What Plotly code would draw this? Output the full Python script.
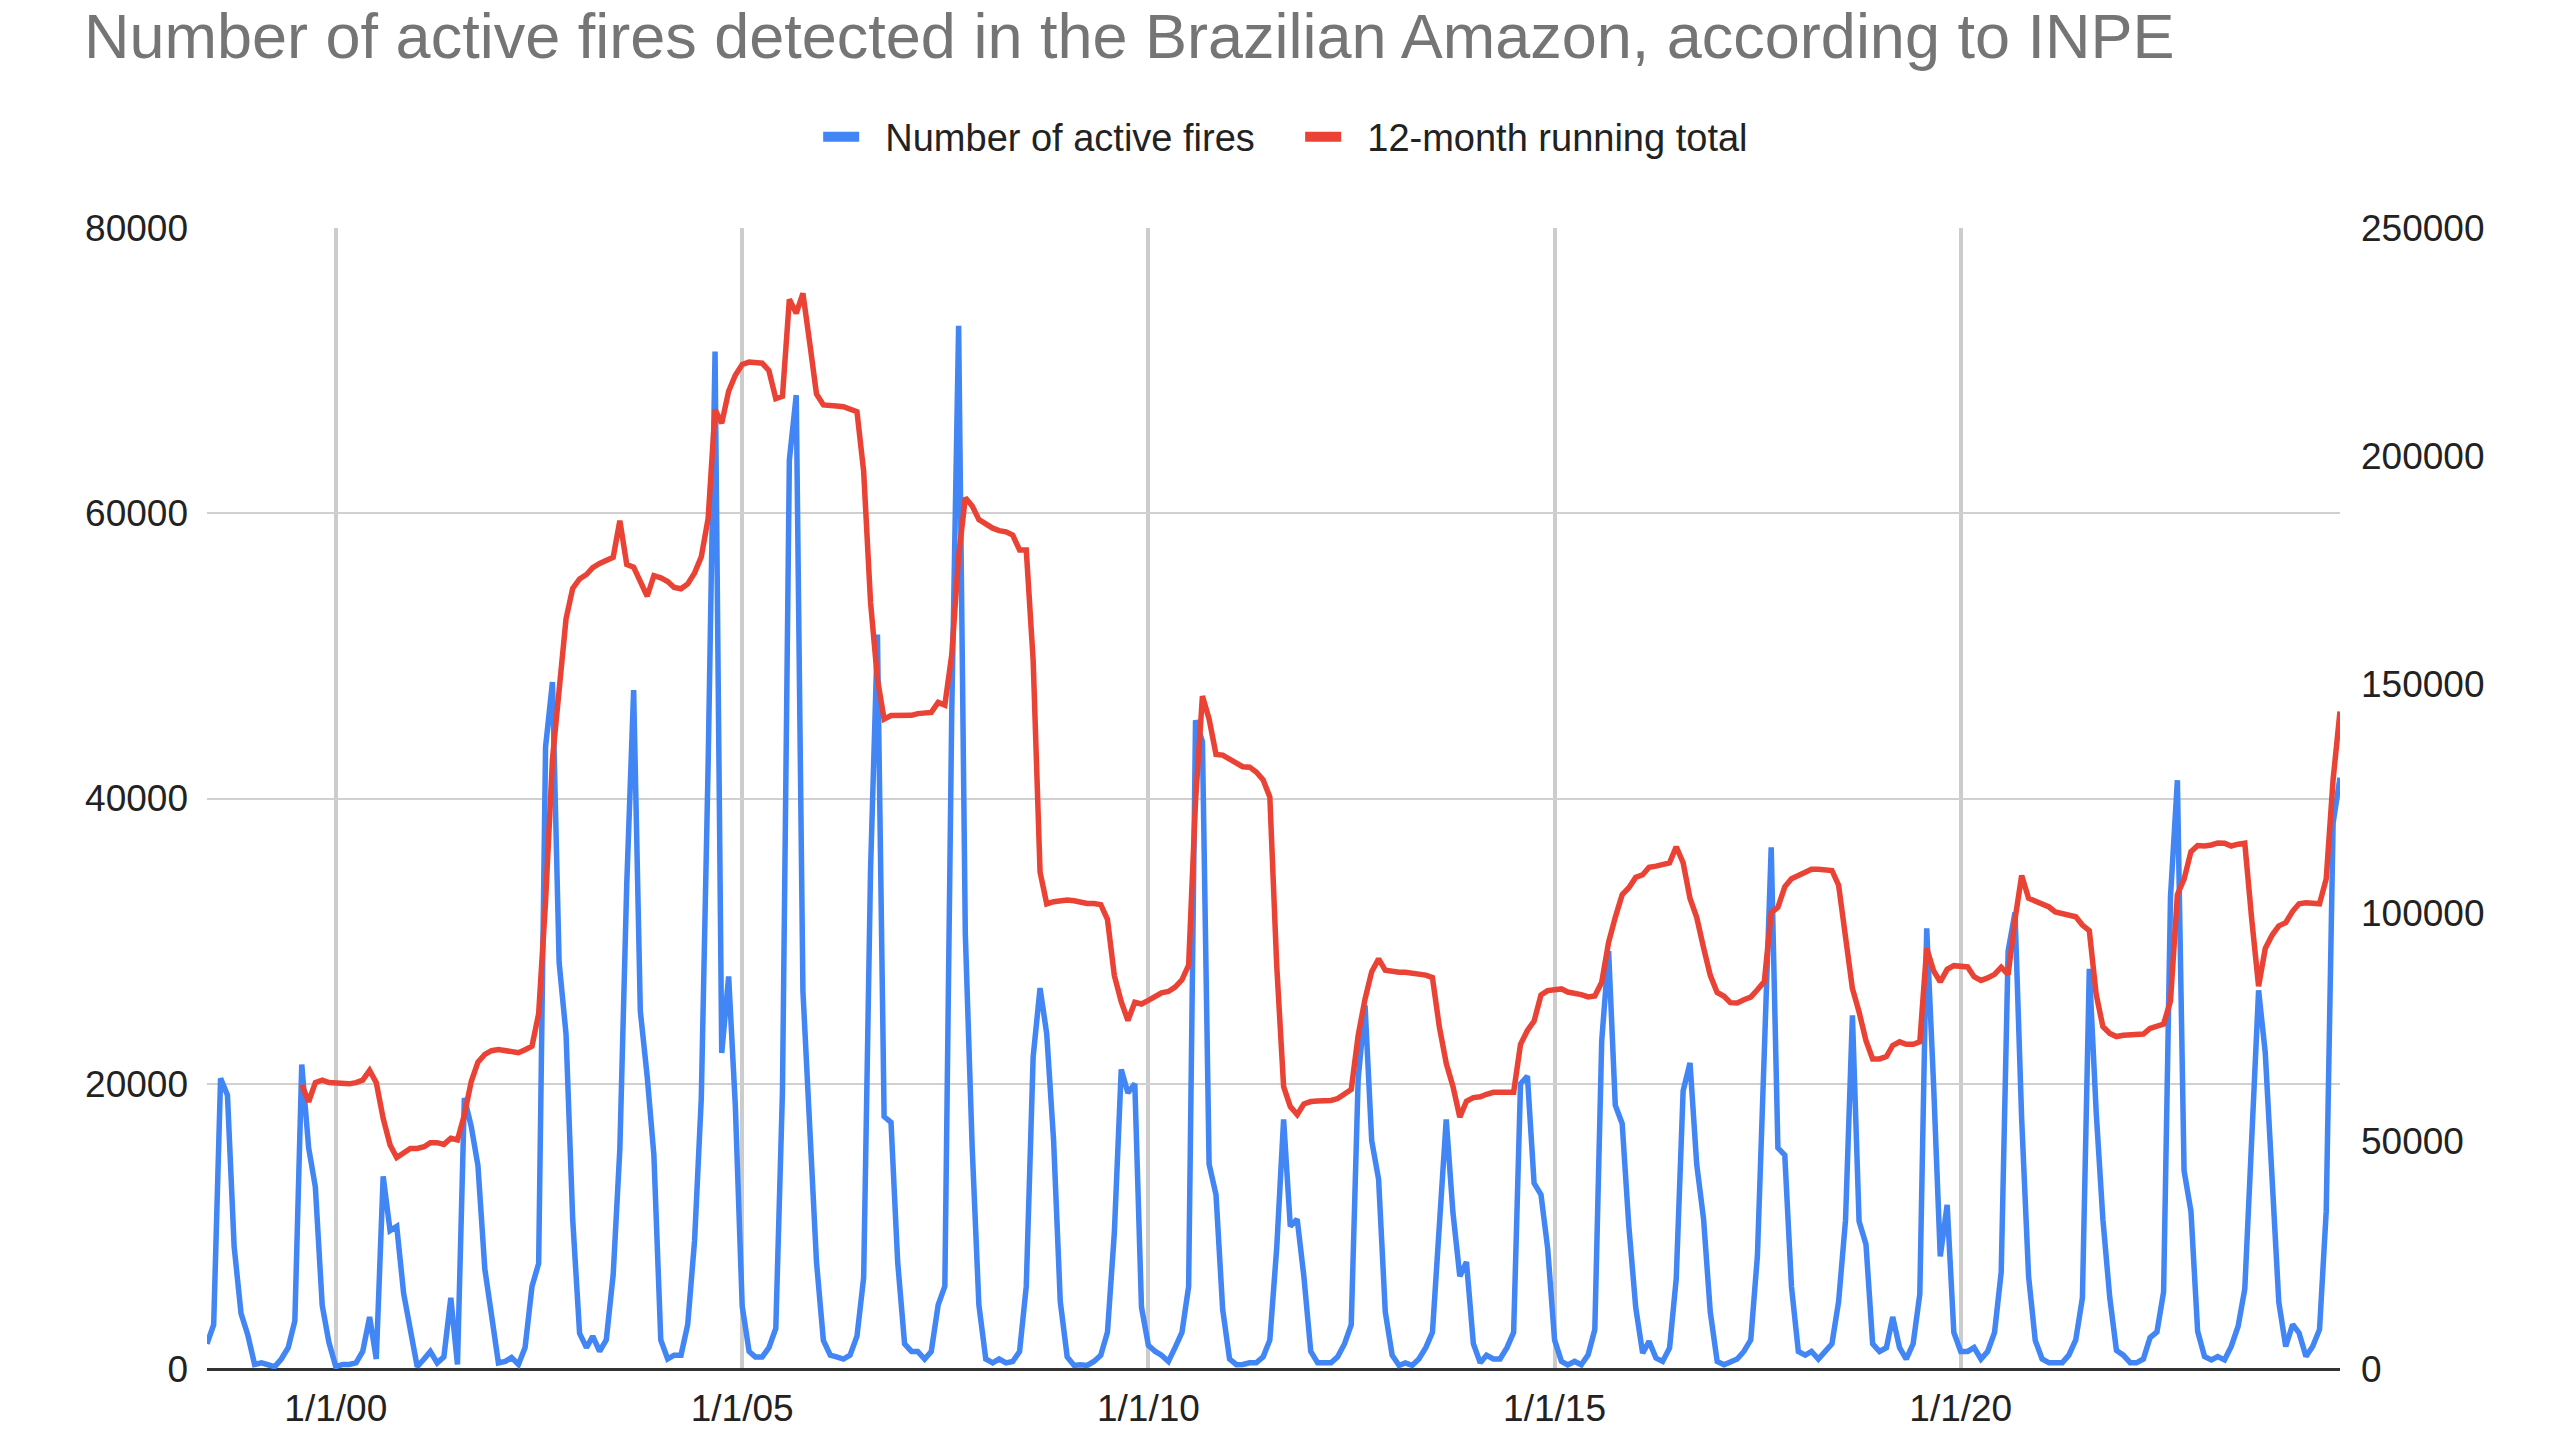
import pandas as pd
import plotly.graph_objects as go

# ---- Monthly number of active fires (INPE, Brazilian Amazon) ----
fires_1998 = [1770, 3110, 20380, 19200, 8580, 3900, 2410]  # Jun-Dec
fires_1999 = [320, 430, 320, 160, 700, 1500, 3380, 21350, 15500, 12770, 4450, 1870]
fires_2000 = [160, 320, 320, 430, 1230, 3650, 700, 13500, 9700, 10000, 5300, 3000]
fires_2001 = [160, 700, 1230, 430, 850, 4990, 320, 19000, 17000, 14260, 7000, 3800]
fires_2002 = [430, 530, 800, 320, 1500, 5790, 7400, 43610, 48170, 28500, 23490, 10500]
fires_2003 = [2500, 1500, 2300, 1230, 2040, 6600, 15440, 34000, 47600, 25100, 20500, 15000]
fires_2004 = [2040, 700, 970, 970, 3110, 9010, 18930, 42500, 71340, 22150, 27520, 18500]
fires_2005 = [4400, 1230, 850, 850, 1500, 2840, 19470, 63720, 68280, 26500, 16500, 7500]
fires_2006 = [2000, 970, 850, 700, 970, 2300, 6400, 35000, 51500, 17700, 17300, 7500]
fires_2007 = [1770, 1230, 1230, 700, 1230, 4500, 5800, 46000, 73140, 30500, 15500, 4500]
fires_2008 = [700, 430, 700, 430, 530, 1230, 5790, 21880, 26710, 23500, 16000, 4720]
fires_2009 = [850, 250, 300, 250, 530, 970, 2570, 9550, 21000, 19360, 20000, 4340]
fires_2010 = [1660, 1230, 970, 530, 1500, 2570, 5790, 45480, 44000, 14370, 12230, 4180]
fires_2011 = [700, 300, 320, 430, 430, 850, 2040, 8500, 17500, 10000, 10500, 6500]
fires_2012 = [1230, 430, 430, 430, 850, 1770, 3110, 20300, 25500, 16000, 13300, 4000]
fires_2013 = [970, 250, 430, 250, 700, 1500, 2570, 9500, 17500, 11000, 6500, 7500]
fires_2014 = [1770, 430, 970, 700, 700, 1500, 2570, 20000, 20540, 13030, 12230, 8470]
fires_2015 = [2040, 530, 290, 530, 300, 1000, 2770, 23000, 29300, 18500, 17200, 10000]
fires_2016 = [4300, 1110, 1940, 765, 530, 1470, 6320, 19500, 21460, 14360, 10500, 4000]
fires_2017 = [530, 300, 530, 700, 1230, 2040, 7940, 21300, 36570, 15500, 15000, 5790]
fires_2018 = [1230, 970, 1230, 700, 1230, 1770, 4720, 10420, 24800, 10350, 8740, 1770]
fires_2019 = [1230, 1500, 3650, 1500, 700, 1770, 5250, 30900, 19900, 7900, 11500, 2570]
fires_2020 = [1230, 1230, 1500, 700, 1230, 2570, 6800, 29300, 32000, 17500, 6500, 2000]
fires_2021 = [700, 430, 430, 430, 970, 2040, 4980, 28060, 18000, 10500, 5000, 1300]
fires_2022 = [970, 430, 430, 700, 2200, 2600, 5400, 33100, 41280, 13900, 11050, 2650]
fires_2023 = [875, 640, 875, 640, 1580, 3000, 5610, 16500, 26550, 22170, 14000, 4660]
fires_2024 = [1580, 3120, 2530, 875, 1580, 2770, 11050, 38270, 41460]  # Jan-Sep

# ---- 12-month running total (starts Aug 1999) ----
total_1999 = [62250, 58550, 62740, 63290, 62750]  # Aug-Dec
total_2000 = [62590, 62480, 62480, 62750, 63280, 65430, 62750, 54900, 49100, 46330, 47180, 48310]
total_2001 = [48310, 48690, 49600, 49600, 49220, 50560, 50180, 55680, 62980, 67240, 68940, 69740]
total_2002 = [70010, 69840, 69410, 69300, 69950, 70750, 77830, 102440, 133610, 147850, 164340, 171040]
total_2003 = [173110, 174080, 175580, 176490, 177030, 177840, 185880, 176270, 175700, 172300, 169310, 173810]
total_2004 = [173350, 172550, 171220, 170960, 172030, 174440, 177930, 186430, 210170, 207220, 214240, 217740]
total_2005 = [220100, 220630, 220510, 220390, 218780, 212610, 213150, 234370, 231310, 235660, 224640, 213640]
total_2006 = [211240, 210980, 210980, 210830, 210300, 209760, 196690, 167970, 151190, 142390, 143190, 143190]
total_2007 = [142960, 143220, 143600, 143600, 143860, 146060, 145460, 156460, 178100, 190900, 189100, 186100]
total_2008 = [185030, 184230, 183700, 183430, 182730, 179460, 179450, 155330, 108900, 101900, 102400, 102620]
total_2009 = [102770, 102590, 102190, 102010, 102010, 101750, 98530, 86200, 80490, 76350, 80350, 79970]
total_2010 = [80780, 81760, 82430, 82710, 83680, 85280, 88500, 124430, 147430, 142440, 134670, 134510]
total_2011 = [133550, 132620, 131970, 131870, 130800, 129080, 125330, 88350, 61850, 57480, 55750, 58070]
total_2012 = [58600, 58730, 58840, 58840, 59260, 60180, 61250, 73050, 81050, 87050, 89850, 87350]
total_2013 = [87090, 86910, 86910, 86730, 86580, 86310, 85770, 74970, 66970, 61970, 55170, 58670]
total_2014 = [59470, 59650, 60190, 60640, 60640, 60640, 60640, 71140, 74180, 76210, 81940, 82910]
total_2015 = [83180, 83280, 82600, 82430, 82030, 81530, 81730, 84730, 93490, 98960, 103930, 105460]
total_2016 = [107720, 108300, 109950, 110185, 110415, 110885, 114435, 110935, 103095, 98955, 92255, 86255]
total_2017 = [82485, 81675, 80265, 80200, 80900, 81470, 83090, 84890, 100000, 101140, 105640, 107430]
total_2018 = [108130, 108800, 109500, 109500, 109500, 109230, 106010, 95130, 83360, 78210, 71950, 67930]
total_2019 = [67930, 68460, 70880, 71680, 71150, 71150, 71680, 92160, 87260, 84810, 87570, 88370]
total_2020 = [88370, 88100, 85950, 85150, 85680, 86480, 88030, 86430, 98530, 108130, 103130, 102560]
total_2021 = [102030, 101230, 100160, 99890, 99630, 99100, 97280, 96040, 82040, 75040, 73540, 72840]
total_2022 = [73110, 73110, 73110, 73380, 74610, 75170, 75590, 80630, 103910, 107310, 113360, 114710]
total_2023 = [114615, 114825, 115270, 115210, 114590, 114990, 115200, 98600, 83870, 92140, 95090, 97100]
total_2024 = [97805, 100285, 101940, 102175, 102175, 101945, 107385, 129155, 144065]

# ---- Tick labels ----
x_tick_dates = ["2000-01-01", "2005-01-01", "2010-01-01", "2015-01-01", "2020-01-01"]
x_tick_labels = ["1/1/00", "1/1/05", "1/1/10", "1/1/15", "1/1/20"]
left_ticks = [0, 20000, 40000, 60000, 80000]
right_ticks = [0, 50000, 100000, 150000, 200000, 250000]

series_names = ["Number of active fires", "12-month running total"]
title_text = "Number of active fires detected in the Brazilian Amazon, according to INPE"

fires = (fires_1998 + fires_1999 + fires_2000 + fires_2001 + fires_2002 + fires_2003
         + fires_2004 + fires_2005 + fires_2006 + fires_2007 + fires_2008 + fires_2009
         + fires_2010 + fires_2011 + fires_2012 + fires_2013 + fires_2014 + fires_2015
         + fires_2016 + fires_2017 + fires_2018 + fires_2019 + fires_2020 + fires_2021
         + fires_2022 + fires_2023 + fires_2024)
totals = (total_1999 + total_2000 + total_2001 + total_2002 + total_2003 + total_2004
          + total_2005 + total_2006 + total_2007 + total_2008 + total_2009 + total_2010
          + total_2011 + total_2012 + total_2013 + total_2014 + total_2015 + total_2016
          + total_2017 + total_2018 + total_2019 + total_2020 + total_2021 + total_2022
          + total_2023 + total_2024)

x_fires = pd.date_range("1998-06-01", periods=len(fires), freq="MS")
x_totals = pd.date_range("1999-08-01", periods=len(totals), freq="MS")

BLUE = "#4285F4"
RED = "#EA4335"
FONT = "Arial, 'Liberation Sans', sans-serif"
GAP = "\u00a0\u00a0"  # visual gap between legend swatch and its label

fig = go.Figure()
fig.add_trace(go.Scatter(x=x_fires, y=fires, mode="lines", name=series_names[0],
                         line=dict(color=BLUE, width=5.5), showlegend=False))
fig.add_trace(go.Scatter(x=x_totals, y=totals, mode="lines", name=series_names[1],
                         line=dict(color=RED, width=5.5), yaxis="y2", showlegend=False))
# legend entries (thick swatches like the original)
fig.add_trace(go.Scatter(x=[None], y=[None], mode="lines", name=GAP + series_names[0],
                         line=dict(color=BLUE, width=14)))
fig.add_trace(go.Scatter(x=[None], y=[None], mode="lines", name=GAP + series_names[1],
                         line=dict(color=RED, width=14)))

fig.update_layout(
    width=2560, height=1440,
    margin=dict(l=207, r=220, t=228, b=71, pad=0),
    paper_bgcolor="white", plot_bgcolor="white",
    font=dict(family=FONT, size=37, color="#222222"),
    title=dict(text=title_text, font=dict(family=FONT, size=63, color="#757575"),
               x=84 / 2560, xref="container", xanchor="left",
               y=1 - 36 / 1440, yref="container", yanchor="middle"),
    legend=dict(orientation="h", x=0.5125, xanchor="center", y=1.0798, yanchor="middle",
                font=dict(family=FONT, size=38, color="#222222"),
                itemwidth=36, entrywidth=431, entrywidthmode="pixels",
                bgcolor="rgba(0,0,0,0)", traceorder="normal"),
    xaxis=dict(type="date", range=["1998-06-01", "2024-09-01"],
               tickvals=x_tick_dates, ticktext=x_tick_labels,
               showgrid=True, gridcolor="#cccccc", gridwidth=3.5,
               zeroline=False, showline=False, ticks="",
               tickfont=dict(size=37, color="#222222"), ticklabelstandoff=14),
    yaxis=dict(range=[0, 80000], tickvals=left_ticks, ticktext=[str(v) for v in left_ticks],
               showgrid=True, gridcolor="#d0d0d0", gridwidth=2,
               zeroline=True, zerolinecolor="#333333", zerolinewidth=3,
               showline=False, ticks="",
               tickfont=dict(size=37, color="#222222"), ticklabelstandoff=18),
    yaxis2=dict(range=[0, 250000], tickvals=right_ticks, ticktext=[str(v) for v in right_ticks],
                overlaying="y", side="right", showgrid=False, zeroline=False,
                showline=False, ticks="",
                tickfont=dict(size=37, color="#222222"), ticklabelstandoff=20),
)

fig.write_html("out.html")
